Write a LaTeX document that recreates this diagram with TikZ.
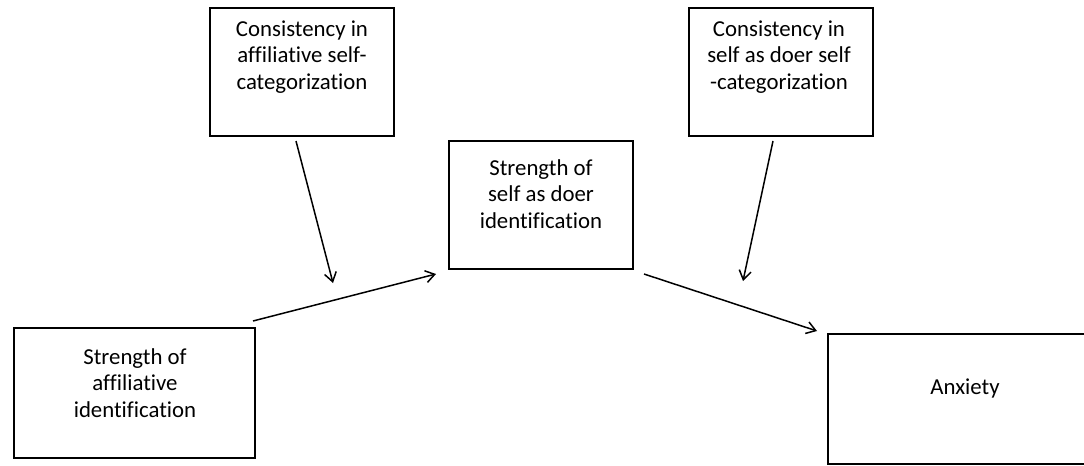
\documentclass[tikz,border=0pt]{standalone}
\usepackage{fontspec}
\setmainfont[Ligatures=NoCommon]{Carlito}
\usetikzlibrary{arrows.meta, positioning}
\tikzstyle{arrow} = [line width=0.75pt, -{Straight Barb[length=4.5pt, width=6pt]}]
\tikzset{every node/.style={align=center}}

\begin{document}
\begin{tikzpicture}[x=0.5pt, y=-0.5pt,
    box/.style={rectangle, draw, line width=1pt, inner sep=0pt,
                minimum width=92pt, minimum height=64pt},
    txt/.style={font=\fontsize{11.4}{13.2}\selectfont, inner sep=0pt}
]
  \clip (0,0) rectangle (1084,466);

  % --- moderators ---
  \node[box] (CAF) at (302,72) {};
  \node[txt] (CAFt) at (302,57) {Consistency in\\affiliative self-\\categorization};
  \node[box] (CSD) at (781,72) {};
  \node[txt] (CSDt) at (779,57) {Consistency in\\self as doer self\\-categorization};

  % --- mediator ---
  \node[box] (SSD) at (541,205) {};
  \node[txt] (SSDt) at (541,194) {Strength of\\self as doer\\identification};

  % --- predictor / outcome ---
  \node[box, minimum width=120.5pt, minimum height=65pt] (SAF) at (134.5,393) {};
  \node[txt] (SAFt) at (135,383) {Strength of\\affiliative\\identification};
  \node[box, minimum width=137pt, minimum height=65pt] (ANX) at (965,399) {};
  \node[txt] (ANXt) at (965,388) {Anxiety};

  \coordinate (M1) at (333,283);
  \coordinate (M2) at (743,281);

  \draw[arrow] ([shift={(-3,-6)}]SAF.north east) -- ([shift={(-12,4)}]SSD.south west);
  \draw[arrow] ([shift={(10,4)}]SSD.south east)  -- ([shift={(-10,-2)}]ANX.north west);
  \draw[arrow] ([shift={(-6,4)}]CAF.south) -- (M1);
  \draw[arrow] ([shift={(-8,4)}]CSD.south) -- (M2);
\end{tikzpicture}
\end{document}
